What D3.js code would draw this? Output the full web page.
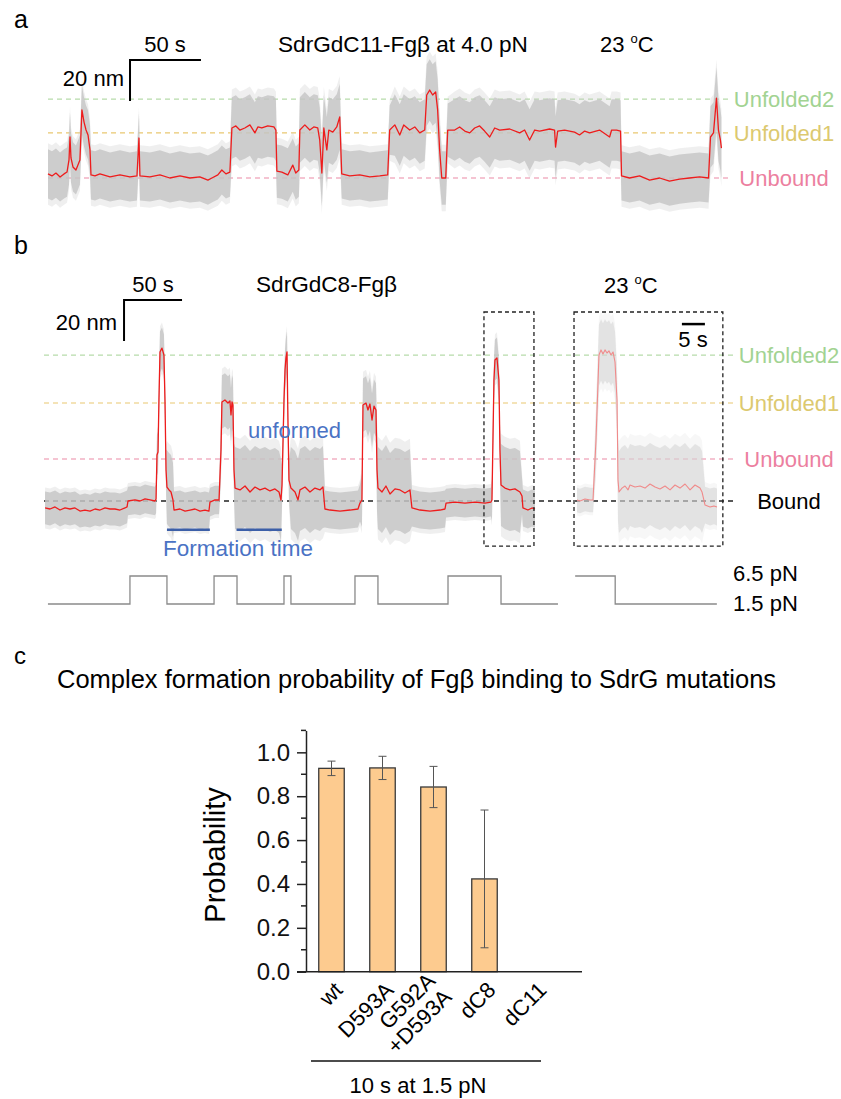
<!DOCTYPE html>
<html>
<head>
<meta charset="utf-8">
<script src="https://cdn.jsdelivr.net/npm/d3@7"></script>
<style>
  body { margin: 0; background: #fff; }
  text { font-family: "Liberation Sans", Arial, sans-serif; }
</style>
</head>
<body>
<svg id="fig"></svg>
<script>
// ---- panel a : SdrGdC11-Fgb at 4.0 pN (time s, extension nm) ----
let traceA = [
  [0,2],[2.8,1],[5.6,2.4],[8.5,0.5],[11.3,2],[13.4,2.9],[14.8,8.8],[15.5,20],[16.2,9.8],[17.6,5.4],
  [19.7,3.9],[21.1,6.3],[22.5,8.8],[23.9,33.2],[25.4,27.3],[26.8,23.4],[28.2,21],[29.6,13.7],[30.3,1.5],
  [33.1,1],[36.6,2],[43.7,0.5],[50.7,1.5],[57.7,0.5],[62.7,1],[64.1,19.5],[64.8,1],[71.8,0.5],[78.9,1.5],
  [85.9,0],[93,1],[100,0],[107,0.5],[112.7,-1],[115.5,0],[119.7,1.5],[122.5,3.9],[125.4,2],[128.2,2.9],
  [129.6,24.4],[132.4,25.4],[135.2,23.4],[138.7,24.4],[142.3,25.9],[145.8,22],[147.9,24.9],[150.7,24.4],
  [154.9,25.4],[159.2,24.9],[160.6,23.4],[161.3,3.4],[164.8,2.9],[169,1.5],[172.5,6.3],[174.6,2.4],
  [176.8,3.9],[177.5,23.4],[181,25.9],[184.5,23.4],[187.3,24.9],[190.1,24.4],[191.5,18.5],[193,2.4],
  [194.4,24.4],[196.5,13.7],[197.9,23.4],[200.7,22.4],[203.5,24.9],[205.6,29.8],[207,2],[212.7,1],
  [219.7,1.5],[226.8,0.5],[233.8,1],[239.4,1.5],[240.8,23.4],[244.4,25.9],[247.9,21],[250.7,25.9],
  [254.9,23.4],[258.5,24.9],[262,22],[265.5,23.4],[266.9,40.5],[269,42.9],[271.1,40.5],[273.2,42],
  [274.6,33.2],[276,13.7],[277.5,0],[280.3,0],[281.7,23.4],[286.6,23.4],[290.1,24.9],[293.7,22.9],
  [297.2,22],[300.7,24.4],[304.2,25.4],[307.7,22.9],[311.3,20],[314.8,24.4],[318.3,23.4],[325.4,23.9],
  [332.4,22],[335.9,23.4],[339.4,18.5],[343,23.4],[346.5,22.9],[353.5,23.9],[357,23.4],[357.7,15.1],
  [359.2,22.9],[364.1,23.4],[371.1,22.4],[374.6,21],[378.2,22.9],[381.7,22],[388.7,23.4],[395.8,20],
  [397.2,23.4],[400.7,23.4],[403.5,22.9],[404.2,1],[409.9,0],[416.9,1],[424,-1],[431,0],[438,-1.5],
  [445.1,-0.5],[452.1,0],[459.2,0.5],[465.5,0],[466.9,20],[469,22],[471.1,39],[472.5,23.4],[473.9,18.5],
  [474.6,14.6]
];
// noise half-width (nm) of the raw grey trace: [from s, to s, half-width]
let noiseA = [
  [0,30,12],[30,129,12],[129,161,15],[161,177,13],[177,207,16],[207,241,12],[241,277,15],
  [277,282,13],[282,404,15],[404,466,12],[466,480,15]
];
let levelsA = [["Unfolded2", 38.5], ["Unfolded1", 22], ["Unbound", 0]];

// ---- panel b : SdrGdC8-Fgb ----
let traceB = [
  [0.9,-3.4],[5.2,-3.9],[9.5,-2.9],[13.8,-4.4],[18.1,-3.4],[22.4,-3.9],[26.7,-3.4],[31,-4.9],[35.3,-4.4],
  [39.7,-4.9],[44,-3.9],[48.3,-4.4],[52.6,-3.4],[56.9,-3.9],[61.2,-3.9],[65.5,-4.4],[69.8,-3.4],[71.6,-2.9],
  [72.4,0],[78.4,0.5],[82.8,0],[87.1,1],[91.4,0.5],[95.7,0],[96.6,1],[97.4,22.4],[98.3,23.9],[99.1,49.3],
  [100,72.7],[101.7,74.6],[103.4,71.2],[104.3,49.3],[105.2,15.1],[106,6.8],[107.8,5.4],[109.5,4.4],
  [111.2,0.5],[112.1,-4.4],[117.2,-3.9],[121.6,-4.9],[125.9,-4.4],[130.2,-3.9],[134.5,-4.9],[138.8,-4.4],
  [142.2,-4.9],[143.1,-0.5],[147.4,0.5],[150.9,0.5],[152.6,24.9],[153.4,48.3],[156,49.3],[158.6,47.8],
  [160.3,48.8],[161.2,42],[162.1,48.3],[162.9,46.8],[163.8,15.1],[164.7,6.3],[169,5.4],[173.3,7.3],
  [177.6,4.4],[181.9,6.8],[186.2,5.4],[190.5,6.3],[194.8,4.9],[199.1,5.9],[202.6,4.4],[204.3,0.5],
  [205.2,7.8],[206.9,49.3],[207.8,63.9],[208.6,69.8],[209.5,72.7],[210.3,39.5],[211.2,10.2],[212.9,6.3],
  [216.4,4.4],[219,0.5],[220.7,5.4],[225,6.8],[229.3,4.4],[233.6,6.3],[237.9,5.4],[240.5,6.8],[242.2,-3.9],
  [246.6,-4.4],[255.2,-4.9],[263.8,-4.4],[270.7,-3.9],[272.4,-1],[274.1,0.5],[275,46.8],[277.6,47.8],
  [279.3,44.4],[281,47.3],[282.8,39.5],[284.5,46.3],[286.2,44.4],[287.1,15.1],[287.9,6.3],[291.4,4.4],
  [294.8,7.3],[298.3,3.4],[302.6,5.9],[306.9,5.4],[311.2,3.9],[315.5,5.4],[317.2,-3.4],[324.1,-4.4],
  [332.8,-4.9],[341.4,-4.4],[345.7,-3.9],[346.6,-1],[354.3,-0.5],[362.9,-1],[371.6,-0.5],[380.2,-1],
  [385.3,-0.5],[386.2,0.5],[387.9,59],[388.8,68.8],[390.5,69.8],[392.2,59],[393.1,24.9],[394,7.8],
  [397.4,6.3],[401.7,5.4],[406,5.9],[410.3,4.4],[412.1,2.4],[412.9,-3.4],[417.2,-4.4],[420.7,-3.4],
  [423.3,-3.9]
];
let noiseB = [
  [0,72,8],[72,97,7],[97,106,10],[106,112,18],[112,143,9],[143,152,7],[152,164,13],[164,205,20],
  [205,212,10],[212,242,20],[242,273,9],[273,287,13],[287,317,20],[317,346,9],[346,386,7],[386,394,10],
  [394,412,20],[412,430,9]
];
// zoomed recording inside the right box (own 5 s scale)
let traceBz = [
  [0,0.5],[0.65,0],[1.74,1],[2.83,0.5],[3.48,0.5],[4.13,29.8],[4.78,71.2],[5.22,73.7],[5.65,71.7],
  [6.09,73.7],[6.52,72.2],[6.96,73.2],[7.39,71.2],[7.83,72.7],[8.26,67.8],[8.7,49.3],[8.91,10.2],
  [9.13,4.4],[9.78,6.3],[10.43,7.3],[11.09,5.4],[11.52,7.8],[12.61,6.8],[13.7,7.3],[14.78,6.3],
  [15.87,8.3],[16.96,6.8],[18.04,5.9],[19.13,7.3],[20.22,5.4],[21.3,7.8],[22.39,6.3],[23.48,8.3],
  [24.57,5.4],[25.65,7.8],[26.74,6.3],[27.17,4.4],[27.83,-2],[28.91,-2.9],[29.78,-2.4],[30.43,-2.9]
];
let noiseBz = [[0,4,6],[4,8.8,15],[8.8,27.5,20],[27.5,32,9]];
let levelsB = [["Unfolded2", 71.2], ["Unfolded1", 47.8], ["Unbound", 20.5], ["Bound", 0]];
// force protocol: [time s, force pN], step after
let forceB = [[3.4,1.5],[74.1,6.5],[106,1.5],[146.6,6.5],[166.4,1.5],[206.9,6.5],[212.9,1.5],
  [268.1,6.5],[287.9,1.5],[348.3,6.5],[394,1.5],[443.1,1.5]];
let forceBz = [[-0.4,6.5],[8.3,1.5],[30.4,1.5]];
let formationTimes = [[106,143],[166,205]];
let forceLabels = ["6.5 pN", "1.5 pN"];

// ---- panel c ----
let categories = ["wt", "D593A", "G592A+D593A", "dC8", "dC11"];
let probability = [0.927, 0.929, 0.842, 0.423, 0];
let probErr = [0.033, 0.053, 0.094, 0.314, 0];
let yTicks = [0, 0.2, 0.4, 0.6, 0.8, 1.0];

let levelColor = { Unfolded2: "#b7dcaa", Unfolded1: "#e9c870", Unbound: "#ec8aa5", Bound: "#222" };
let levelText = { Unfolded2: "#a2d392", Unfolded1: "#dcc96f", Unbound: "#ec7fa0", Bound: "#000" };

let svg = d3.select("#fig").attr("width", 841).attr("height", 1099)
  .style("background", "#fff");

function hwAt(segs, t) {
  for (let s of segs) if (t >= s[0] && t < s[1]) return s[2];
  return segs[segs.length - 1][2];
}

function drawTrace(g, data, noise, x, y, opt) {
  let outer = d3.area().x(d => x(d[0]))
    .y0(d => y(d[1] - hwAt(noise, d[0]) * 1.25)).y1(d => y(d[1] + hwAt(noise, d[0]) * 1.25));
  let inner = d3.area().x(d => x(d[0]))
    .y0(d => y(d[1] - hwAt(noise, d[0]))).y1(d => y(d[1] + hwAt(noise, d[0])));
  g.append("path").attr("d", outer(data)).attr("fill", opt.grey).attr("opacity", opt.op * 0.35);
  g.append("path").attr("d", inner(data)).attr("fill", opt.grey).attr("opacity", opt.op);
  g.append("path").attr("d", d3.line().x(d => x(d[0])).y(d => y(d[1]))(data))
    .attr("fill", "none").attr("stroke", opt.red).attr("stroke-width", opt.w)
    .attr("stroke-linejoin", "round");
}

function label(x, y, txt, size, anchor, color) {
  return svg.append("text").attr("x", x).attr("y", y).text(txt)
    .style("font-size", size + "px").attr("text-anchor", anchor || "start")
    .attr("fill", color || "#000");
}

function degLabel(x, y) {
  let t = svg.append("text").attr("x", x).attr("y", y).style("font-size", "22px");
  t.append("tspan").text("23 ");
  t.append("tspan").text("o").style("font-size", "13px").attr("dy", -9);
  t.append("tspan").text("C").attr("dy", 9);
}

// ================= panel a =================
let xA = d3.scaleLinear().domain([0, 475]).range([48, 722]);
let yA = d3.scaleLinear().domain([0, 20]).range([178, 137]);

label(14, 28, "a", 25);
let gA = svg.append("g");
levelsA.forEach(l => {
  gA.append("line").attr("x1", 48).attr("x2", 729).attr("y1", yA(l[1])).attr("y2", yA(l[1]))
    .attr("stroke", levelColor[l[0]]).attr("stroke-width", 1.2).attr("stroke-dasharray", "5,4");
  label(784, yA(l[1]) + 8, l[0], 22, "middle", levelText[l[0]]);
});
drawTrace(gA, traceA, noiseA, xA, yA, { grey: "#c4c4c4", op: 0.8, red: "#ee1c1c", w: 1.3 });

// scale bar 50 s / 20 nm
svg.append("path")
  .attr("d", `M${xA(107.8)},${yA(57.6)}H${xA(57.8)}V${yA(37.6)}`)
  .attr("fill", "none").attr("stroke", "#000").attr("stroke-width", 2);
label(165, 52, "50 s", 22, "middle");
label(124, 86, "20 nm", 22, "end");
label(278, 52, "SdrGdC11-Fgβ at 4.0 pN", 22.6);
degLabel(600, 52);

// ================= panel b =================
let xB = d3.scaleLinear().domain([0, 423.3]).range([44, 535]);
let xBz = d3.scaleLinear().domain([0, 30.43]).range([577, 717]);
let yB = d3.scaleLinear().domain([0, 20]).range([501, 460]);
let fB = d3.scaleLinear().domain([1.5, 6.5]).range([604, 576]);

label(14, 254, "b", 25);
let gB = svg.append("g");
levelsB.forEach(l => {
  gB.append("line").attr("x1", 44).attr("x2", 737).attr("y1", yB(l[1])).attr("y2", yB(l[1]))
    .attr("stroke", levelColor[l[0]]).attr("stroke-width", l[0] === "Bound" ? 1.3 : 1.2)
    .attr("stroke-dasharray", "5,4");
  label(789, yB(l[1]) + 8, l[0], 22, "middle", levelText[l[0]]);
});
drawTrace(gB, traceB, noiseB, xB, yB, { grey: "#c4c4c4", op: 0.8, red: "#ee1c1c", w: 1.3 });
drawTrace(gB, traceBz, noiseBz, xBz, yB, { grey: "#d4d4d4", op: 0.55, red: "#f08a8a", w: 1.1 });

// dashed boxes around the zoomed event
[[xB(379.3), xB(422.4)], [xBz(-0.65), xBz(31.7)]].forEach(b => {
  gB.append("rect").attr("x", b[0]).attr("y", yB(92.2)).attr("width", b[1] - b[0])
    .attr("height", yB(-22) - yB(92.2)).attr("fill", "none")
    .attr("stroke", "#222").attr("stroke-width", 1.3).attr("stroke-dasharray", "4,3");
});

// formation time bars
formationTimes.forEach(f => {
  gB.append("line").attr("x1", xB(f[0])).attr("x2", xB(f[1]))
    .attr("y1", yB(-14)).attr("y2", yB(-14))
    .attr("stroke", "#3c5fa8").attr("stroke-width", 2.5);
});
label(248, 438, "unformed", 22, "start", "#4a72c4");
label(163, 556, "Formation time", 22.5, "start", "#4a72c4");

// force protocol
let fLine = d3.line().curve(d3.curveStepAfter).y(d => fB(d[1]));
svg.append("path").attr("d", fLine.x(d => xB(d[0]))(forceB))
  .attr("fill", "none").attr("stroke", "#8a8a8a").attr("stroke-width", 1.3);
svg.append("path").attr("d", fLine.x(d => xBz(d[0]))(forceBz))
  .attr("fill", "none").attr("stroke", "#8a8a8a").attr("stroke-width", 1.3);
label(733, 581, forceLabels[0], 22);
label(733, 611, forceLabels[1], 22);

// scale bars
svg.append("path")
  .attr("d", `M${xB(119)},${yB(98)}H${xB(69)}V${yB(78)}`)
  .attr("fill", "none").attr("stroke", "#000").attr("stroke-width", 2);
label(153, 292, "50 s", 22, "middle");
label(117, 330, "20 nm", 22, "end");
label(256, 292, "SdrGdC8-Fgβ", 22.6);
degLabel(604, 293);
svg.append("line").attr("x1", xBz(22.8)).attr("x2", xBz(27.8))
  .attr("y1", yB(86.3)).attr("y2", yB(86.3)).attr("stroke", "#000").attr("stroke-width", 2.5);
label(693, 347, "5 s", 22, "middle");

// ================= panel c =================
label(14, 664, "c", 24);
label(57, 688, "Complex formation probability of Fgβ binding to SdrG mutations", 25.5);

let xC = d3.scaleBand().domain(categories).range([306, 561]).paddingInner(0.5).paddingOuter(0.25);
let yC = d3.scaleLinear().domain([0, 1.1]).range([971.7, 730.4]);

let gC = svg.append("g");
gC.selectAll("rect.bar").data(categories).enter().append("rect")
  .attr("class", "bar")
  .attr("x", d => xC(d)).attr("width", xC.bandwidth())
  .attr("y", (d, i) => yC(probability[i]))
  .attr("height", (d, i) => yC(0) - yC(probability[i]))
  .attr("fill", "#fdcb8f").attr("stroke", "#3a3a3a").attr("stroke-width", 1.3)
  .style("display", (d, i) => probability[i] > 0 ? null : "none");

// error bars
categories.forEach((c, i) => {
  if (probability[i] === 0) return;
  let cx = xC(c) + xC.bandwidth() / 2;
  let lo = yC(probability[i] - probErr[i]), hi = yC(probability[i] + probErr[i]);
  gC.append("path").attr("d", `M${cx},${lo}V${hi}M${cx - 4},${hi}H${cx + 4}M${cx - 4},${lo}H${cx + 4}`)
    .attr("fill", "none").attr("stroke", "#555").attr("stroke-width", 1);
});

// y axis
let yAxis = gC.append("g").attr("transform", "translate(306,0)")
  .call(d3.axisLeft(yC).tickValues(yTicks).tickFormat(d3.format(".1f"))
    .tickSize(9).tickSizeOuter(0).tickPadding(7));
yAxis.select(".domain").attr("stroke", "#222").attr("stroke-width", 1.5);
yAxis.selectAll(".tick line").attr("stroke", "#222").attr("stroke-width", 1.5);
yAxis.selectAll(".tick text").style("font-size", "24px").attr("fill", "#111")
  .style("font-family", "'Liberation Sans', Arial, sans-serif");
gC.selectAll("line.minor").data([0.1, 0.3, 0.5, 0.7, 0.9, 1.1]).enter().append("line")
  .attr("class", "minor").attr("x1", 301).attr("x2", 306)
  .attr("y1", d => yC(d)).attr("y2", d => yC(d)).attr("stroke", "#222").attr("stroke-width", 1.5);
// x axis line
gC.append("line").attr("x1", 297).attr("x2", 582).attr("y1", yC(0)).attr("y2", yC(0))
  .attr("stroke", "#222").attr("stroke-width", 1.5);

svg.append("text").attr("transform", `translate(225,855) rotate(-90)`)
  .attr("text-anchor", "middle").style("font-size", "29px").text("Probability");

// rotated category labels
categories.forEach(c => {
  let cx = xC(c) + xC.bandwidth() / 2;
  let t = svg.append("text").attr("text-anchor", "end").style("font-size", "22px")
    .attr("transform", `translate(${cx + 7},${986}) rotate(-45)`);
  let parts = c.indexOf("+") > 0 ? [c.split("+")[0], "+" + c.split("+")[1]] : [c];
  if (parts.length === 1) {
    t.append("tspan").attr("x", 0).attr("dy", "0.35em").text(parts[0]);
  } else {
    t.append("tspan").attr("x", 0).attr("dy", "-0.25em").text(parts[0]);
    t.append("tspan").attr("x", 0).attr("dy", "1.05em").text(parts[1]);
  }
});

svg.append("line").attr("x1", 311).attr("x2", 541).attr("y1", 1061).attr("y2", 1061)
  .attr("stroke", "#111").attr("stroke-width", 1.6);
label(418, 1093, "10 s at 1.5 pN", 22, "middle");
</script>
</body>
</html>
